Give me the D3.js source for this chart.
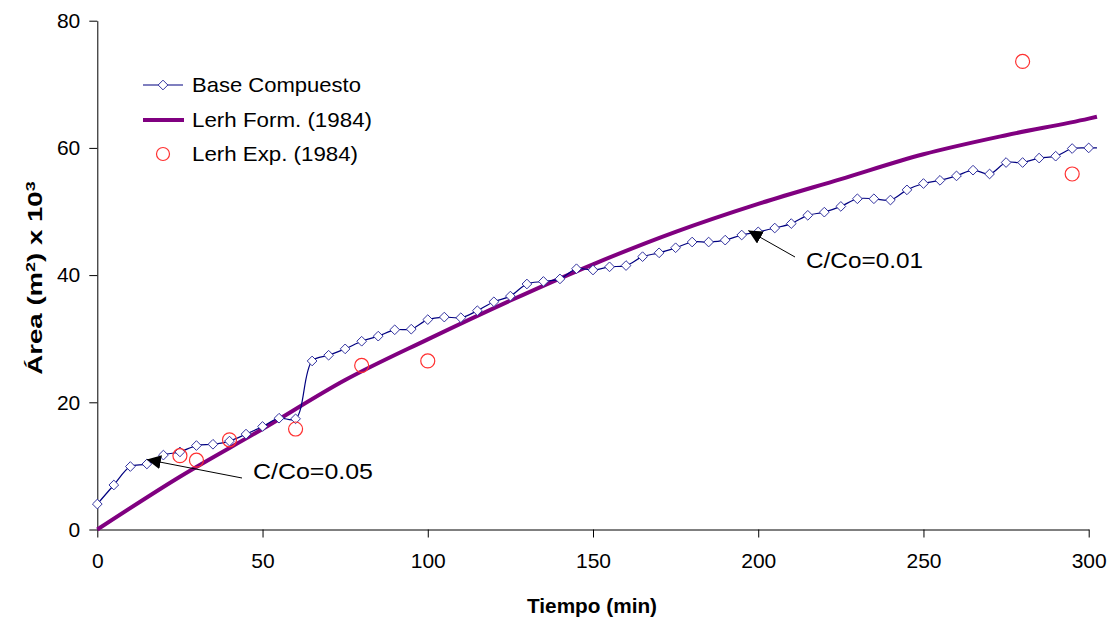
<!DOCTYPE html>
<html><head><meta charset="utf-8">
<script src="https://cdn.jsdelivr.net/npm/d3@7"></script>
<style>
html,body{margin:0;padding:0;background:#fff;}
text{font-family:"Liberation Sans",Arial,sans-serif;}
</style></head>
<body><svg id="c" width="1110" height="623"></svg>
<script>
// Base Compuesto (every 5 min, plus line tail)
const baseTime = [0,5,10,15,20,25,30,35,40,45,50,55,60,65,70,75,80,85,90,95,100,105,110,115,120,125,130,135,140,145,150,155,160,165,170,175,180,185,190,195,200,205,210,215,220,225,230,235,240,245,250,255,260,265,270,275,280,285,290,295,300,302.5];
const baseArea = [4.0,7.0,9.9,10.3,11.7,12.2,13.2,13.4,13.9,15.0,16.2,17.5,17.4,26.5,27.4,28.4,29.6,30.4,31.4,31.5,33.0,33.4,33.3,34.4,35.8,36.7,38.6,39.0,39.4,41.0,40.8,41.3,41.5,42.9,43.5,44.3,45.2,45.2,45.5,46.3,46.8,47.4,48.1,49.4,49.9,50.8,52.0,52.0,51.8,53.4,54.4,54.9,55.6,56.5,55.9,57.7,57.7,58.4,58.7,59.9,60.0,60.0];
// Lerh Form. (1984)
const formTime = [0,25,50,75,100,125,150,175,200,225,250,275,300,302.5];
const formArea = [0,8.3,15.8,23.5,29.9,36.0,41.7,46.8,51.2,55.1,59.0,62.0,64.6,64.9];
// Lerh Exp. (1984)
const expTime = [25,30,40,60,80,100,280,295];
const expArea = [11.6,10.9,14.1,15.8,25.8,26.5,73.6,55.9];

const xTicks = [0,50,100,150,200,250,300];
const yTicks = [0,20,40,60,80];
const legendLabels = ["Base Compuesto","Lerh Form. (1984)","Lerh Exp. (1984)"];
const annotations = [
  {label:"C/Co=0.05", t:15, v:11.0},
  {label:"C/Co=0.01", t:197, v:47.0}
];

const svg = d3.select("#c");
const x = d3.scaleLinear().domain([0,300]).range([97.3,1088.7]);
const y = d3.scaleLinear().domain([0,80]).range([529.5,20.7]);

svg.append("defs").append("marker")
  .attr("id","ah").attr("viewBox","0 0 10 10").attr("refX",10).attr("refY",5)
  .attr("markerWidth",14).attr("markerHeight",14).attr("markerUnits","userSpaceOnUse")
  .attr("orient","auto")
  .append("path").attr("d","M0,0 L10,5 L0,10 Z").attr("fill","#000");

// Axes
const xAxis = svg.append("g").attr("transform",`translate(0,${y(0)})`)
  .call(d3.axisBottom(x).tickValues(xTicks).tickSize(8).tickPadding(16).tickSizeOuter(0));
const yAxis = svg.append("g").attr("transform",`translate(${x(0)},0)`)
  .call(d3.axisLeft(y).tickValues(yTicks).tickSize(8).tickPadding(9).tickSizeOuter(0));
[xAxis,yAxis].forEach(g=>{
  g.select(".domain").attr("stroke","#000").attr("stroke-width",1);
  g.selectAll(".tick line").attr("stroke","#000");
  g.selectAll(".tick text").attr("font-size",21).attr("fill","#000")
    .attr("font-family","'Liberation Sans',Arial,sans-serif");
});

// Axis titles
svg.append("text").attr("x",592).attr("y",613).attr("text-anchor","middle")
  .attr("font-size",20).attr("font-weight","bold")
  .attr("textLength",130).attr("lengthAdjust","spacingAndGlyphs").text("Tiempo (min)");
const yt = svg.append("text").attr("transform","translate(42,278) rotate(-90) scale(1.38,1)")
  .attr("text-anchor","middle").attr("font-size",20).attr("font-weight","bold");
yt.append("tspan").text("Área (m");
yt.append("tspan").attr("dy",-7).attr("font-size",13).text("2");
yt.append("tspan").attr("dy",7).text(") x 10");
yt.append("tspan").attr("dy",-7).attr("font-size",13).text("3");

// Lerh Form line
const formData = formTime.map((t,i)=>({t,v:formArea[i]}));
svg.append("path").datum(formData)
  .attr("d",d3.line().x(d=>x(d.t)).y(d=>y(d.v)).curve(d3.curveMonotoneX))
  .attr("fill","none").attr("stroke","#800080").attr("stroke-width",4);

// Base Compuesto line
const baseData = baseTime.map((t,i)=>({t,v:baseArea[i]}));
svg.append("path").datum(baseData)
  .attr("d",d3.line().x(d=>x(d.t)).y(d=>y(d.v)).curve(d3.curveCatmullRom.alpha(0.5)))
  .attr("fill","none").attr("stroke","#000080").attr("stroke-width",1.2);
const dia = d3.symbol().type(d3.symbolDiamond2).size(60);
svg.append("g").selectAll("path").data(baseData.filter(d=>d.t<=300)).join("path")
  .attr("transform",d=>`translate(${x(d.t)},${y(d.v)})`)
  .attr("d",dia).attr("fill","#fff").attr("stroke","#3333a0").attr("stroke-width",1);

// Lerh Exp circles
const expData = expTime.map((t,i)=>({t,v:expArea[i]}));
svg.append("g").selectAll("circle").data(expData).join("circle")
  .attr("cx",d=>x(d.t)).attr("cy",d=>y(d.v)).attr("r",7)
  .attr("fill","none").attr("stroke","#ff3030").attr("stroke-width",1.2);

// Annotations
const ann = [
  {a:annotations[0], tx:253, ty:479, lx:242, ly:478, w:120},
  {a:annotations[1], tx:806, ty:268, lx:795, ly:257, w:117}
];
ann.forEach(o=>{
  svg.append("line").attr("x1",o.lx).attr("y1",o.ly)
    .attr("x2",x(o.a.t)).attr("y2",y(o.a.v))
    .attr("stroke","#000").attr("stroke-width",1).attr("marker-end","url(#ah)");
  svg.append("text").attr("x",o.tx).attr("y",o.ty).attr("font-size",22).attr("fill","#000")
    .attr("textLength",o.w).attr("lengthAdjust","spacingAndGlyphs").text(o.a.label);
});

// Legend
const lg = svg.append("g");
const rows = [85,120,154];
const lw = [169,180,166];
lg.append("line").attr("x1",143).attr("x2",183).attr("y1",rows[0]).attr("y2",rows[0]).attr("stroke","#000080").attr("stroke-width",1.2);
lg.append("path").attr("transform",`translate(163,${rows[0]})`).attr("d",dia).attr("fill","#fff").attr("stroke","#3333a0");
lg.append("line").attr("x1",143).attr("x2",184).attr("y1",rows[1]).attr("y2",rows[1]).attr("stroke","#800080").attr("stroke-width",4);
lg.append("circle").attr("cx",163).attr("cy",rows[2]).attr("r",6.5).attr("fill","none").attr("stroke","#ff3030").attr("stroke-width",1.2);
legendLabels.forEach((l,i)=>{
  lg.append("text").attr("x",192).attr("y",rows[i]).attr("dy","0.35em").attr("font-size",21).attr("fill","#000")
    .attr("textLength",lw[i]).attr("lengthAdjust","spacingAndGlyphs").text(l);
});
</script></body></html>
